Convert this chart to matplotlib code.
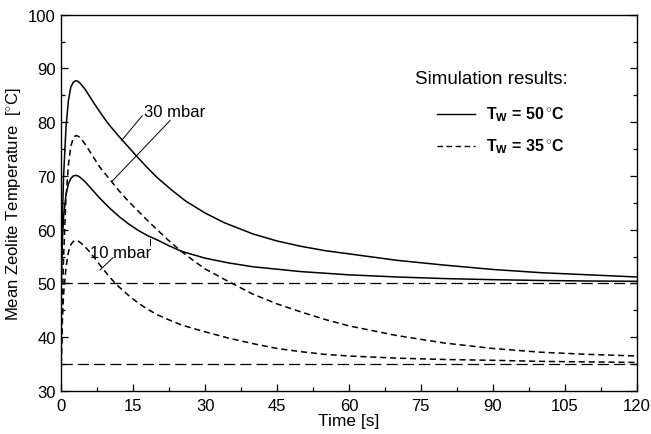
import matplotlib.pyplot as plt
import numpy as np
from matplotlib.ticker import MultipleLocator

plt.rcParams['font.family'] = ['Liberation Sans', 'DejaVu Sans']
plt.rcParams['mathtext.fontset'] = 'custom'
plt.rcParams['mathtext.rm'] = 'Liberation Sans'
plt.rcParams['mathtext.bf'] = 'Liberation Sans:bold'

# Simulation results: time [s] and mean zeolite temperature [C]
# Tw = 50 C, 30 mbar
t_a = [0, 0.25, 0.5, 1, 1.5, 2, 2.5, 3, 3.5, 4, 5, 6, 7, 8, 9, 10, 12, 14, 16, 18, 20,
       23, 26, 30, 34, 40, 45, 50, 55, 60, 70, 80, 90, 100, 110, 120]
T_a = [50, 62, 70, 79, 84, 86.5, 87.4, 87.7, 87.6, 87.2, 86.1, 84.7, 83.3, 82.0, 80.7,
       79.5, 77.4, 75.4, 73.4, 71.5, 69.7, 67.4, 65.3, 63.1, 61.3, 59.2, 57.9, 56.9,
       56.1, 55.5, 54.3, 53.4, 52.6, 52.0, 51.6, 51.2]
# Tw = 50 C, 10 mbar
t_b = [0, 0.25, 0.5, 1, 1.5, 2, 2.5, 3, 3.5, 4, 5, 6, 7, 8, 10, 12, 14, 16, 18, 20, 22.5,
       25, 30, 35, 40, 50, 60, 70, 80, 90, 100, 110, 120]
T_b = [50, 58, 62.5, 66.5, 68.5, 69.5, 70.0, 70.1, 70.0, 69.7, 68.9, 67.9, 66.9, 65.9,
       64.1, 62.5, 61.1, 59.9, 58.9, 58.1, 57.0, 56.0, 54.7, 53.8, 53.1, 52.2, 51.6, 51.2,
       50.9, 50.7, 50.55, 50.45, 50.4]
# Tw = 35 C, 30 mbar
t_c = [0, 0.25, 0.5, 1, 1.5, 2, 2.5, 3, 3.5, 4, 5, 6, 7, 8, 10, 12, 14, 16, 18, 20, 22.5,
       25, 27.5, 30, 35, 40, 45, 50, 55, 60, 70, 80, 90, 100, 110, 120]
T_c = [35, 46, 55, 66, 72, 75.5, 77.0, 77.5, 77.4, 77.1, 75.9, 74.5, 73.1, 71.7, 69.5,
       67.3, 65.3, 63.5, 61.7, 60.0, 57.9, 56.0, 54.3, 52.7, 50.3, 48.0, 46.2, 44.7, 43.3,
       42.1, 40.3, 38.9, 37.9, 37.2, 36.8, 36.5]
# Tw = 35 C, 10 mbar
t_d = [0, 0.25, 0.5, 1, 1.5, 2, 2.5, 3, 3.5, 4, 5, 6, 7, 8, 9, 10, 11, 12, 14, 16, 18, 20,
       22, 25, 28, 30, 35, 40, 45, 50, 55, 60, 70, 80, 90, 100, 110, 120]
T_d = [35, 43, 48, 53, 55.8, 57.2, 57.8, 58.0, 57.9, 57.6, 56.8, 55.8, 54.7, 53.5, 52.4,
       51.3, 50.3, 49.4, 47.8, 46.4, 45.2, 44.2, 43.4, 42.3, 41.5, 41.0, 39.8, 38.8, 37.9,
       37.3, 36.8, 36.5, 36.1, 35.85, 35.7, 35.5, 35.4, 35.3]

water_temps = [50, 35]

fig = plt.figure(figsize=(6.51, 4.35), dpi=100)
ax = fig.add_axes([0.094, 0.099, 0.884, 0.865])

for tw in water_temps:
    ax.axhline(tw, color='black', lw=0.9, ls=(0, (9, 4)))

ax.plot(t_a, T_a, color='black', lw=1.1)
ax.plot(t_b, T_b, color='black', lw=1.1)
ax.plot(t_c, T_c, color='black', lw=1.1, ls=(0, (4, 2.5)))
ax.plot(t_d, T_d, color='black', lw=1.1, ls=(0, (4, 2.5)))

# pressure labels with leader lines
ax.text(17.3, 81.9, '30 mbar', fontsize=12, va='center', ha='left')
ax.plot([16.9, 12.6], [81.2, 76.6], color='black', lw=0.7)
ax.plot([22.7, 10.6], [80.3, 69.0], color='black', lw=0.7)
ax.text(6.0, 55.8, '10 mbar', fontsize=12, va='center', ha='left')
ax.plot([10.8, 8.1], [54.8, 52.5], color='black', lw=0.7)
ax.plot([18.6, 18.6], [57.2, 58.3], color='black', lw=0.7)

# legend drawn by hand like the original
ax.text(105.6, 88.2, 'Simulation results:', fontsize=13.5, ha='right', va='center')
ax.plot([78.3, 86.3], [81.6, 81.6], color='black', lw=1.0)
ax.plot([78.3, 86.3], [75.6, 75.6], color='black', lw=1.0, ls=(0, (4, 2.5)))
ax.text(88.6, 81.6, r'$\mathbf{T_W}$ = 50$\,^{\circ}$C', fontsize=11.5, fontweight='bold',
        va='center', ha='left')
ax.text(88.6, 75.6, r'$\mathbf{T_W}$ = 35$\,^{\circ}$C', fontsize=11.5, fontweight='bold',
        va='center', ha='left')

ax.set_xlim(0, 120)
ax.set_ylim(30, 100)
ax.xaxis.set_major_locator(MultipleLocator(15))
ax.xaxis.set_minor_locator(MultipleLocator(7.5))
ax.yaxis.set_major_locator(MultipleLocator(10))
ax.yaxis.set_minor_locator(MultipleLocator(5))
ax.tick_params(which='both', direction='in', right=True, top=False, labelsize=12, width=0.9)
ax.tick_params(which='major', length=5, pad=5)
ax.tick_params(which='minor', length=3)
ax.tick_params(axis='y', which='major', pad=4)
for s in ax.spines.values():
    s.set_linewidth(1.0)

ax.set_xlabel('Time [s]', fontsize=12.5, labelpad=0)
ax.set_ylabel(r'Mean Zeolite Temperature  [$^{\circ}$C]', fontsize=12, labelpad=3)

fig.savefig('out.png', dpi=100)
